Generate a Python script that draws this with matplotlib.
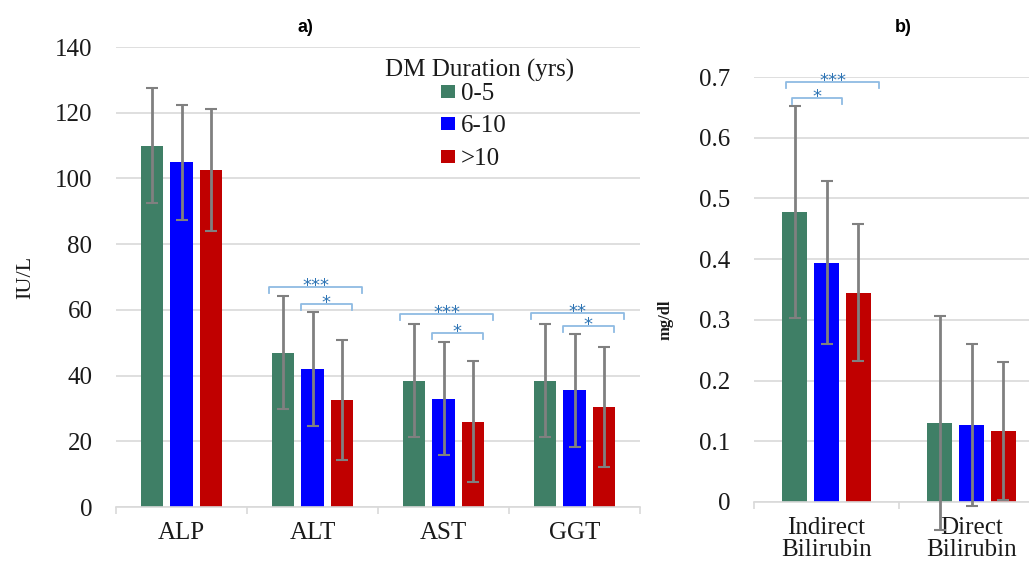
import matplotlib
matplotlib.use("Agg")
import matplotlib.pyplot as plt
from matplotlib.font_manager import FontProperties
import numpy as np

# ---------------- data ----------------
groups = ["0-5", "6-10", ">10"]
legend_title = "DM Duration (yrs)"

cats_a = ["ALP", "ALT", "AST", "GGT"]
mean_a = {
    "0-5":  [110.0, 47.0, 38.5, 38.5],
    "6-10": [105.0, 42.0, 33.0, 35.5],
    ">10":  [102.5, 32.5, 26.0, 30.5],
}
sd_a = {
    "0-5":  [17.5, 17.3, 17.2, 17.2],
    "6-10": [17.5, 17.2, 17.3, 17.3],
    ">10":  [18.5, 18.2, 18.3, 18.3],
}
# significance brackets: (category index, kind, y, label)
sig_a = [(1, "outer", 67.0, "***"), (1, "inner", 61.8, "*"),
         (2, "outer", 58.7, "***"), (2, "inner", 53.0, "*"),
         (3, "outer", 59.0, "**"), (3, "inner", 55.0, "*")]

cats_b = ["Indirect\nBilirubin", "Direct\nBilirubin"]
mean_b = {
    "0-5":  [0.478, 0.130],
    "6-10": [0.394, 0.127],
    ">10":  [0.345, 0.117],
}
sd_b = {
    "0-5":  [0.175, 0.176],
    "6-10": [0.134, 0.134],
    ">10":  [0.113, 0.113],
}
sig_b = [(0, "outer", 0.692, "***"), (0, "inner", 0.665, "*")]

# ---------------- style ----------------
colors = ["#3f7f66", "#0000ff", "#c00000"]
serif = "Liberation Serif"
FS = 18
grid_c = "#d9d9d9"
brk_c = "#8fbbe3"
star_c = "#2f75b5"
err_c = "#808080"
txt_c = "#1a1a1a"

W, H = 1029, 561
fig = plt.figure(figsize=(W / 100, H / 100), dpi=100)


def px_axes(x0, x1, ybot, ytop):
    return fig.add_axes([x0 / W, (H - ybot) / H, (x1 - x0) / W, (ybot - ytop) / H])


def draw_panel(ax, cats, means, sds, step, width, ylim, yticks, ytl, sig, brk, drop, tick_pad_x):
    n = len(cats)
    x = np.arange(n)
    handles = []
    for i, g in enumerate(groups):
        xs = x + (i - 1) * step
        b = ax.bar(xs, means[g], width=width, color=colors[i], zorder=2, label=g)
        handles.append(b)
        eb = ax.errorbar(xs, means[g], yerr=sds[g], fmt="none", ecolor=err_c,
                         elinewidth=2, capsize=4, capthick=1.5, zorder=3)
        for art in eb.lines[1] + eb.lines[2]:
            art.set_clip_on(False)
    ax.set_xlim(-0.5, n - 0.5)
    ax.set_ylim(*ylim)
    ax.set_yticks(yticks)
    ax.set_yticklabels(ytl, fontfamily=serif, fontsize=FS, color=txt_c)
    ax.set_xticks(x)
    ax.set_xticklabels(cats, fontfamily=serif, fontsize=FS, color=txt_c, linespacing=1.0)
    ax.set_xticks(np.arange(n + 1) - 0.5, minor=True)
    ax.tick_params(axis="y", length=0, pad=17)
    ax.tick_params(axis="x", which="major", length=0, pad=tick_pad_x)
    ax.tick_params(axis="x", which="minor", length=5, color=grid_c, width=1.2)
    ax.yaxis.grid(True, color=grid_c, lw=1.2, zorder=0)
    ax.set_axisbelow(True)
    for s in ["left", "right", "top"]:
        ax.spines[s].set_visible(False)
    ax.spines["bottom"].set_color(grid_c)
    ax.spines["bottom"].set_linewidth(1.2)
    for ci, kind, y, lab in sig:
        a, b = brk[kind]
        xa, xb = ci + a, ci + b
        ax.plot([xa, xa, xb, xb], [y - drop, y, y, y - drop], color=brk_c, lw=1.3,
                zorder=4, clip_on=False)
        ax.annotate(lab, ((xa + xb) / 2, y), xytext=(0, -3), textcoords="offset points",
                    ha="center", va="baseline", fontsize=13, color=star_c, zorder=5)
    return handles


# panel a
ax1 = px_axes(116, 640, 507, 47)
handles = draw_panel(ax1, cats_a, mean_a, sd_a, step=0.225, width=0.175,
                     ylim=(0, 140), yticks=np.arange(0, 141, 20),
                     ytl=[str(v) for v in range(0, 141, 20)],
                     sig=sig_a, brk={"outer": (-0.33, 0.38), "inner": (-0.09, 0.30)},
                     drop=1.8, tick_pad_x=11)

# panel b
ax2 = px_axes(754, 1044, 502, 77)
draw_panel(ax2, cats_b, mean_b, sd_b, step=0.22, width=0.17,
           ylim=(0, 0.7), yticks=np.round(np.arange(0, 0.71, 0.1), 1),
           ytl=["0"] + [f"{v:.1f}" for v in np.arange(0.1, 0.71, 0.1)],
           sig=sig_b, brk={"outer": (-0.276, 0.36), "inner": (-0.24, 0.11)},
           drop=0.01, tick_pad_x=11)

# titles & axis labels
fig.text(305 / W, 1 - 27 / H, "a)", fontfamily="Liberation Sans", fontweight="bold",
         fontsize=13, ha="center", va="center")
fig.text(903 / W, 1 - 27 / H, "b)", fontfamily="Liberation Sans", fontweight="bold",
         fontsize=13, ha="center", va="center")
fig.text(26 / W, 1 - 277 / H, "IU/L", fontfamily=serif, fontsize=16, rotation=90,
         ha="center", va="center", color=txt_c)
fig.text(666 / W, 1 - 320 / H, "mg/dl", fontfamily=serif, fontsize=12, rotation=90,
         ha="center", va="center", fontweight="bold", color=txt_c)

# legend (title as separate text for spacing control)
fig.text(480 / W, 1 - 70 / H, legend_title, fontfamily=serif, fontsize=FS,
         ha="center", va="center", color=txt_c)
leg = ax1.legend(handles, groups, loc="upper left",
                 bbox_to_anchor=(441 / W, 1 - 83 / H), bbox_transform=fig.transFigure,
                 frameon=False, prop=FontProperties(family=serif, size=FS),
                 handlelength=0.55, handleheight=0.42, handletextpad=0.25,
                 labelspacing=0.42, borderpad=0, borderaxespad=0)
for t in leg.get_texts():
    t.set_color(txt_c)

fig.savefig("out.png", dpi=100)
